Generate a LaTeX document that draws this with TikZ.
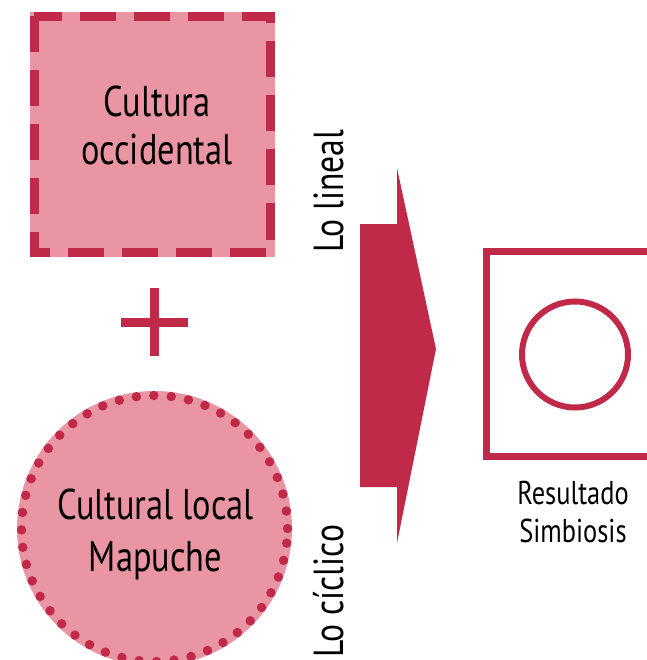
\documentclass[tikz,border=0pt]{standalone}
\usepackage{fontspec}
\setmainfont{PT Sans}[FakeStretch=0.8]
\usepackage{tikz}
\usetikzlibrary{positioning}

\definecolor{crimson}{RGB}{192,41,72}
\definecolor{rosefill}{RGB}{234,149,164}

\tikzset{
  occbox/.style={rectangle,fill=rosefill,minimum size=245pt,inner sep=0pt},
  dashbord/.style={draw=crimson,line width=9pt,dash pattern=on 36pt off 18pt},
  mapcirc/.style={circle,fill=rosefill,minimum size=275pt,inner sep=0pt},
  dotbord/.style={draw=crimson,line width=9.5pt,line cap=round,dash pattern=on 0pt off 17.47pt},
  bigtxt/.style={align=center,inner sep=0pt,font=\fontsize{43}{48}\selectfont},
  sidetxt/.style={rotate=90,inner sep=0pt,anchor=base west,font=\fontsize{42}{48}\selectfont},
  smalltxt/.style={align=center,inner sep=0pt,font=\fontsize{33}{38}\selectfont}
}

\begin{document}
\begin{tikzpicture}[x=1pt,y=-1pt]
  \useasboundingbox (0,0) rectangle (646,660);
  % dos culturas
  \node[occbox] (occ) at (152.5,134.5) {};
  \draw[dashbord] ([shift={(4.5pt,-4.5pt)}]occ.north west) rectangle ([shift={(-4.5pt,4.5pt)}]occ.south east);
  \node[bigtxt] (occtxt) at (157,125.5) {Cultura\\occidental};

  \draw[crimson,line width=9pt] (121,322.5) -- (188,322.5);
  \draw[crimson,line width=9pt] (154.5,288) -- (154.5,356);

  \node[mapcirc] (map) at (154.5,528.5) {};
  \draw[dotbord] (map.center) circle (133pt);
  \node[bigtxt,font=\fontsize{43}{52}\selectfont] (maptxt) at (155.5,534.5) {Cultural local\\Mapuche};

  % flecha
  \fill[crimson] (360,224) -- (397,224) -- (397,168) -- (436,349) -- (397,543) -- (397,487) -- (360,487) -- cycle;
  \node[sidetxt] (lineal) at (343,253) {Lo lineal};
  \node[sidetxt] (ciclico) at (343,658) {Lo cíclico};

  % resultado
  \draw[crimson,line width=7pt] (486.5,251.5) rectangle (663.5,456.5);
  \draw[crimson,line width=6pt] (575,354.5) circle (53pt);
  \node[smalltxt] (res) at (573,512.5) {Resultado\\Simbiosis};
\end{tikzpicture}
\end{document}
